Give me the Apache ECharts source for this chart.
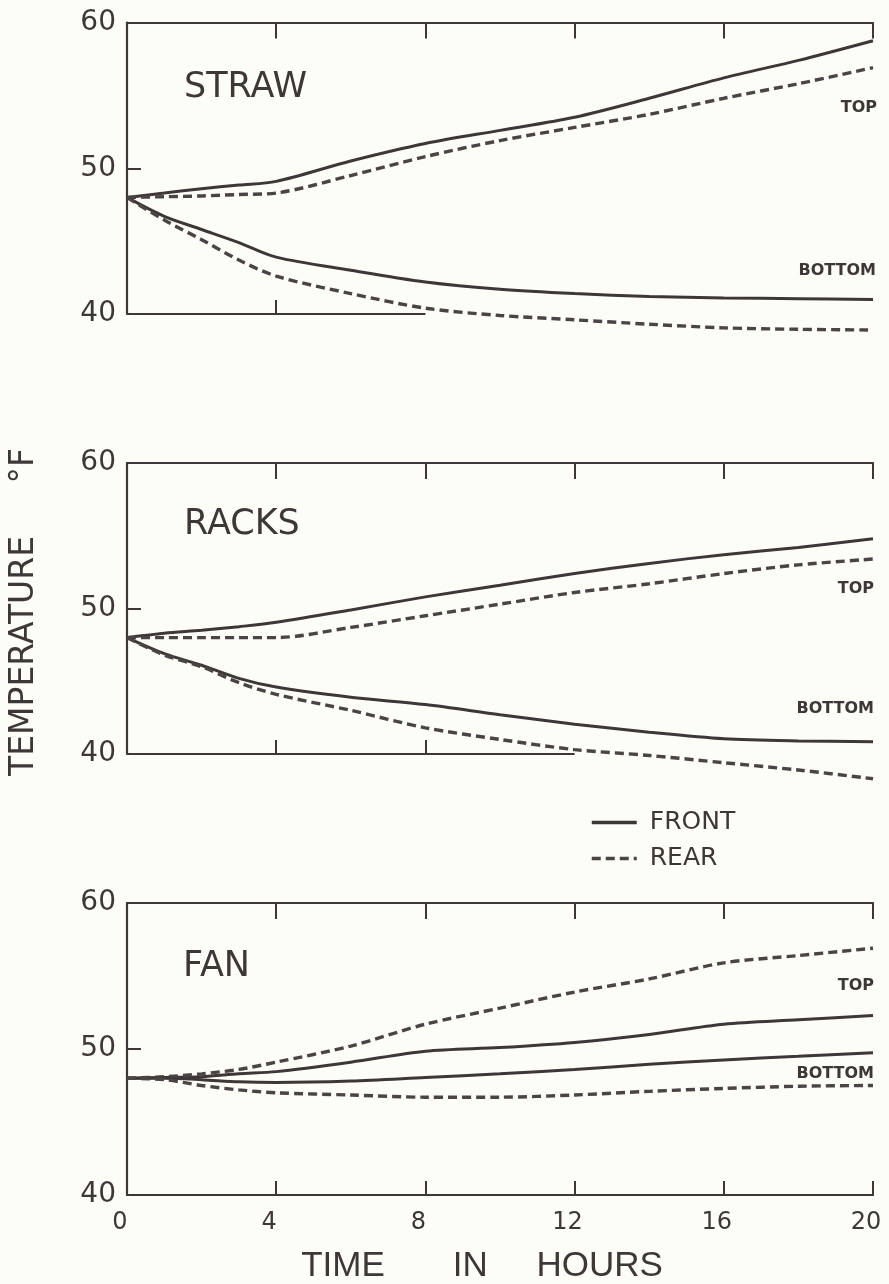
<!DOCTYPE html>
<html><head><meta charset="utf-8">
<script src="https://cdn.jsdelivr.net/npm/echarts@6/dist/echarts.min.js"></script>
<style>html,body{margin:0;padding:0;background:#fdfdf8}#c{width:889px;height:1284px}</style>
</head><body><div id="c"></div><script>
// ---- data ----
const hours = [0, 1, 2, 3, 4, 6, 8, 10, 12, 14, 16, 18, 20];
const xTickLabels = [0, 4, 8, 12, 16, 20];
const yTickLabels = [40, 50, 60];
const panelNames = ['STRAW', 'RACKS', 'FAN'];
const seriesNames = ['FRONT', 'REAR'];

const strawFrontTop    = [48, 48.3, 48.6, 48.85, 49.1, 50.5, 51.7, 52.6, 53.5, 54.8, 56.2, 57.4, 58.75];
const strawRearTop     = [48, 48.05, 48.1, 48.2, 48.3, 49.5, 50.8, 51.9, 52.8, 53.7, 54.8, 55.8, 56.9];
const strawFrontBottom = [48, 46.7, 45.8, 44.9, 43.9, 43.0, 42.2, 41.7, 41.4, 41.2, 41.1, 41.05, 41.0];
const strawRearBottom  = [48, 46.45, 45.1, 43.7, 42.6, 41.4, 40.4, 39.9, 39.6, 39.3, 39.05, 38.95, 38.9];

const racksFrontTop    = [48, 48.3, 48.5, 48.75, 49.05, 49.9, 50.8, 51.6, 52.4, 53.1, 53.7, 54.2, 54.8];
const racksRearTop     = [48, 48.0, 48.0, 48.0, 48.0, 48.7, 49.5, 50.3, 51.1, 51.7, 52.4, 53.0, 53.4];
const racksFrontBottom = [48, 46.9, 46.1, 45.2, 44.6, 43.9, 43.4, 42.7, 42.05, 41.5, 41.05, 40.9, 40.85];
const racksRearBottom  = [48, 46.8, 46.0, 44.9, 44.1, 43.0, 41.8, 41.0, 40.3, 39.9, 39.4, 38.9, 38.3];

const fanRearTop       = [48, 48.1, 48.3, 48.6, 49.1, 50.2, 51.7, 52.8, 53.9, 54.8, 55.9, 56.4, 56.9];
const fanFrontTop      = [48, 48.05, 48.1, 48.3, 48.45, 49.1, 49.85, 50.1, 50.45, 51.0, 51.7, 52.0, 52.3];
const fanFrontBottom   = [48, 48.0, 47.9, 47.75, 47.7, 47.8, 48.05, 48.3, 48.6, 48.95, 49.25, 49.5, 49.75];
const fanRearBottom    = [48, 47.9, 47.5, 47.2, 47.0, 46.85, 46.7, 46.7, 46.85, 47.1, 47.3, 47.45, 47.5];

// hours at which each panel's drawn baseline (40 °F line) ends
const baselineEnd = [8, 12, 20];
const bottomTicks = [[4], [4, 8], [4, 8, 12, 16, 20]];
const topTicks = [4, 8, 12, 16, 20];

// ---- chart ----
const INK = '#3e3737';
const DASH_INK = '#4b4444';
const grids = [
  { left: 127, width: 746, top: 22.5, height: 291.5 },
  { left: 127, width: 746, top: 463, height: 291 },
  { left: 127, width: 746, top: 903, height: 292 }
].map(g => Object.assign(g, { outerBoundsMode: 'none', containLabel: false }));

const xAxes = [], yAxes = [], series = [];
const panels = [
  [strawFrontTop, strawRearTop, strawFrontBottom, strawRearBottom],
  [racksFrontTop, racksRearTop, racksFrontBottom, racksRearBottom],
  [fanFrontTop, fanRearTop, fanFrontBottom, fanRearBottom]
];
const kinds = ['FRONT', 'REAR', 'FRONT', 'REAR'];

for (let k = 0; k < 3; k++) {
  const last = k === 2;
  xAxes.push({
    gridIndex: k, type: 'value', position: 'bottom', min: 0, max: 20, interval: 4,
    axisLine: { show: last, lineStyle: { color: INK, width: 2.2 } },
    axisTick: { show: true, inside: true, length: 14, customValues: bottomTicks[k], lineStyle: { color: INK, width: 2 } },
    axisLabel: {
      show: last, color: INK, fontFamily: 'DejaVu Sans', fontSize: 24, margin: 16,
      padding: [0, 14, 0, 0], formatter: v => (xTickLabels.indexOf(v) >= 0 ? String(v) : '')
    },
    splitLine: { show: false },
    name: last ? 'TIME       IN     HOURS' : '',
    nameLocation: 'middle', nameGap: 54,
    nameTextStyle: { color: INK, fontFamily: 'Liberation Sans', fontSize: 35, padding: [0, 36, 0, 0] }
  });
  xAxes.push({
    gridIndex: k, type: 'value', position: 'top', min: 0, max: 20, interval: 4,
    axisLine: { show: true, lineStyle: { color: INK, width: 2.2 } },
    axisTick: { show: true, inside: true, length: 16, customValues: topTicks, lineStyle: { color: INK, width: 2 } },
    axisLabel: { show: false }, splitLine: { show: false }
  });
  yAxes.push({
    gridIndex: k, type: 'value', min: 40, max: 60, interval: 10,
    axisLine: { show: true, lineStyle: { color: INK, width: 2.2 } },
    axisTick: { show: true, inside: true, length: 14, customValues: [50], lineStyle: { color: INK, width: 2 } },
    axisLabel: {
      color: INK, fontFamily: 'DejaVu Sans', fontSize: 28, margin: 11,
      formatter: v => (yTickLabels.indexOf(v) >= 0 ? String(v) : '')
    },
    splitLine: { show: false }
  });
  panels[k].forEach((vals, i) => {
    const dashed = kinds[i] === 'REAR';
    series.push({
      type: 'line', name: kinds[i], xAxisIndex: 2 * k, yAxisIndex: k,
      data: hours.map((h, j) => [h, vals[j]]),
      smooth: 0.3, symbol: 'none', showSymbol: false, clip: false, silent: true, z: 3,
      lineStyle: dashed ? { color: DASH_INK, width: 3.4, type: [9, 5] } : { color: INK, width: 3 },
      itemStyle: { color: dashed ? DASH_INK : INK }
    });
  });
  if (!last) {
    series.push({
      type: 'line', name: 'baseline' + k, xAxisIndex: 2 * k, yAxisIndex: k,
      data: [[0, 40], [baselineEnd[k], 40]], symbol: 'none', silent: true, clip: false,
      lineStyle: { color: INK, width: 2.2 }, z: 2
    });
  }
}

const lbl = (x, y, text) => ({
  type: 'text', x: x, y: y, silent: true,
  style: { text: text, fill: INK, font: 'bold 16px "DejaVu Sans"', align: 'right', verticalAlign: 'middle' }
});
const title = (x, y, text) => ({
  type: 'text', x: x, y: y, silent: true,
  style: { text: text, fill: INK, font: '35px "DejaVu Sans"', align: 'left', verticalAlign: 'middle' }
});

const graphic = [
  title(184, 88, panelNames[0]),
  title(184, 525, panelNames[1]),
  title(183, 967, panelNames[2]),
  lbl(877, 108, 'TOP'),
  lbl(876, 271, 'BOTTOM'),
  lbl(874, 589, 'TOP'),
  lbl(874, 709, 'BOTTOM'),
  lbl(874, 986, 'TOP'),
  lbl(874, 1074, 'BOTTOM'),
  { type: 'text', x: 24, y: 612, rotation: Math.PI / 2, silent: true,
    style: { text: 'TEMPERATURE     °F', fill: INK, font: '33px "DejaVu Sans"', align: 'center', verticalAlign: 'middle' } }
];

const chart = echarts.init(document.getElementById('c'), null, { renderer: 'canvas' });
chart.setOption({
  backgroundColor: '#fdfdf8',
  animation: false,
  grid: grids,
  xAxis: xAxes,
  yAxis: yAxes,
  series: series,
  legend: {
    data: seriesNames, orient: 'vertical', left: 590, top: 810, itemGap: 11, padding: 0,
    itemWidth: 45, itemHeight: 14, selectedMode: false,
    itemStyle: { opacity: 0 },
    lineStyle: { width: 3.5 },
    textStyle: { color: INK, fontFamily: 'DejaVu Sans', fontSize: 25, padding: [0, 0, 0, 8] }
  },
  graphic: graphic
});
</script></body></html>
